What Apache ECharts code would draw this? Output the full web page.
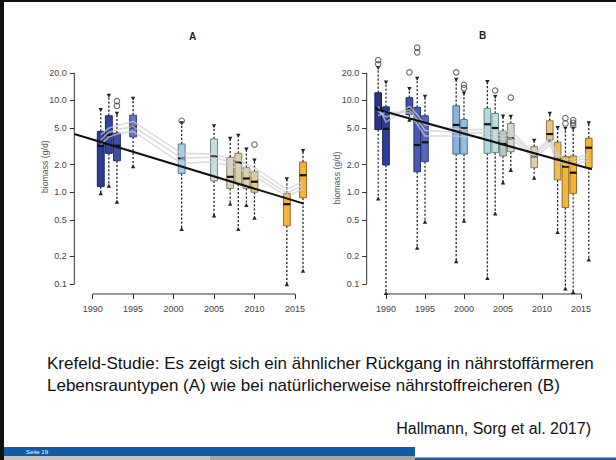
<!DOCTYPE html>
<html><head><meta charset="utf-8">
<script src="https://cdn.jsdelivr.net/npm/echarts@6/dist/echarts.min.js"></script>
<style>html,body{margin:0;padding:0;background:#fff}#c{width:616px;height:460px}</style>
</head><body><div id="c"></div>
<script>
// ---------- tick labels ----------
const xTicks = [1990, 1995, 2000, 2005, 2010, 2015];
const yTicks = [0.1, 0.2, 0.5, 1, 2, 5, 10, 20];

// ---------- panel A ----------
const yearsA = [1991, 1992, 1993, 1995, 2001, 2005, 2007, 2008, 2009, 2010, 2014, 2016];
const lowA   = [0.98, 1.18, 0.79, 1.93, 0.40, 0.56, 0.75, 0.40, 0.73, 0.53, 0.10, 0.14];
const q1A    = [1.15, 2.65, 2.20, 4.00, 1.60, 1.33, 1.10, 1.23, 1.10, 1.00, 0.43, 0.87];
const medA   = [3.20, 4.20, 3.20, 5.10, 2.35, 2.45, 1.47, 2.10, 1.41, 1.30, 0.74, 1.53];
const q3A    = [4.60, 6.80, 4.40, 6.90, 3.35, 3.80, 2.40, 2.65, 1.85, 1.67, 0.97, 2.13];
const highA  = [7.80, 11.2, 7.10, 10.4, 5.60, 5.20, 3.80, 4.10, 2.90, 2.20, 1.38, 2.80];
const outYearsA = [1993, 1993, 2001, 2010];
const outValsA  = [9.8, 8.7, 6.0, 3.3];
const greyA1 = [4.2, 5.0, 5.3, 5.9, 2.65, 2.6, 2.3, 2.3, 2.0, 1.85, 1.08, 1.3];
const greyA2 = [3.7, 4.5, 4.8, 5.2, 2.35, 2.4, 2.1, 2.05, 1.8, 1.65, 0.98, 1.18];
const greyA3 = [3.3, 4.0, 4.3, 4.6, 2.05, 2.15, 1.9, 1.85, 1.62, 1.5, 0.90, 1.08];
const trendYearsA = [1987.73, 2016.1];
const trendValsA  = [4.3, 0.75];

// ---------- panel B ----------
const yearsB = [1989, 1990, 1993, 1994, 1995, 1999, 2000, 2003, 2004, 2005, 2006, 2009, 2011, 2012, 2013, 2014, 2016];
const lowB   = [0.86, 0.080, 6.2, 0.25, 0.48, 0.178, 0.49, 0.117, 0.59, 1.28, 1.75, 1.44, 3.7, 0.37, 0.090, 0.082, 0.186];
const q1B    = [4.8, 1.98, 7.0, 1.67, 2.15, 2.6, 2.6, 2.65, 2.7, 2.48, 2.76, 1.85, 3.7, 1.36, 0.68, 0.97, 1.85];
const medB   = [8.2, 4.9, 8.0, 3.27, 3.5, 5.4, 4.97, 5.5, 5.0, 3.35, 3.87, 2.44, 4.3, 2.3, 1.9, 1.63, 3.05];
const q3B    = [12.1, 8.5, 10.7, 8.4, 6.8, 8.75, 6.2, 8.2, 7.2, 4.64, 5.6, 3.13, 6.0, 3.5, 2.44, 2.48, 3.87];
const highB  = [22.4, 15.6, 13.2, 17.1, 10.9, 16.7, 11.8, 15.8, 10.8, 6.65, 6.6, 3.61, 7.1, 4.97, 4.9, 4.9, 5.6];
const outYearsB = [1989, 1989, 1993, 1994, 1994, 1999, 2000, 2000, 2004, 2006, 2013, 2013, 2014, 2014, 2014];
const outValsB  = [24.9, 27.5, 20.2, 33.4, 37.5, 20.2, 13.6, 14.8, 12.8, 10.7, 5.6, 6.4, 5.3, 5.7, 6.1];
const greyB1 = [8.6, 5.8, 8.6, 7.0, 5.4, 4.9, 4.8, 4.8, 4.7, 4.5, 4.7, 2.6, 3.9, 2.6, 2.25, 2.3, 2.6];
const greyB2 = [7.6, 6.6, 7.9, 6.2, 4.7, 4.5, 4.4, 4.4, 4.3, 4.1, 4.3, 2.45, 3.6, 2.4, 2.1, 2.15, 2.4];
const greyB3 = [6.8, 7.5, 7.3, 5.5, 4.1, 4.1, 4.0, 4.0, 3.9, 3.8, 3.9, 2.3, 3.3, 2.2, 1.95, 2.0, 2.2];
const trendYearsB = [1988.8, 2016.4];
const trendValsB  = [8.0, 1.78];

// ---------- styles ----------
const colorsA = ['#2d3b93','#33429c','#3d4ea6','#6a75c2','#a4cdea','#c8dedc','#d9d4bb','#dccfa6','#ddd0a4','#e2c98e','#f1b53e','#f3b43a'];
const colorsB = ['#28338c','#2e3c9a','#3d4ca8','#4858b4','#5468bd','#88b4e0','#94c0e4','#aedbe0','#bcdfdd','#bac8c4','#d2dacb','#ddd1a8','#e8c67e','#efbc55','#f1b640','#f2b43a','#f3b43a'];
const FONT = 'Liberation Sans, Arial, Helvetica, sans-serif';
const BOX_W = 0.85;

function shade(hex, f) {
  const n = parseInt(hex.slice(1), 16);
  const r = Math.round(((n >> 16) & 255) * f), g = Math.round(((n >> 8) & 255) * f), b = Math.round((n & 255) * f);
  return 'rgb(' + r + ',' + g + ',' + b + ')';
}
const zip = (xs, ys) => xs.map((x, i) => [x, ys[i]]);

function boxRender(colors) {
  return function (params, api) {
    const x = api.value(0);
    const low = api.coord([x, api.value(1)]);
    const q1 = api.coord([x, api.value(2)]);
    const med = api.coord([x, api.value(3)]);
    const q3 = api.coord([x, api.value(4)]);
    const high = api.coord([x, api.value(5)]);
    const hw = Math.abs(api.coord([x + BOX_W / 2, api.value(3)])[0] - med[0]);
    const cx = med[0];
    const fill = colors[params.dataIndex];
    const stroke = shade(fill, 0.6);
    const t = 2.2;
    const wh = { stroke: '#2a2a2a', lineWidth: 1.3, lineDash: [2.2, 1.8] };
    return { type: 'group', children: [
      { type: 'line', shape: { x1: cx, y1: q3[1], x2: cx, y2: high[1] }, style: wh },
      { type: 'line', shape: { x1: cx, y1: q1[1], x2: cx, y2: low[1] }, style: wh },
      { type: 'rect', shape: { x: cx - hw, y: q3[1], width: 2 * hw, height: q1[1] - q3[1] }, style: { fill: fill, stroke: stroke, lineWidth: 1 } },
      { type: 'line', shape: { x1: cx - hw, y1: med[1], x2: cx + hw, y2: med[1] }, style: { stroke: '#111', lineWidth: 2.2 } },
      { type: 'polygon', shape: { points: [[cx - t, high[1] - t], [cx + t, high[1] - t], [cx, high[1] + t * 0.8]] }, style: { fill: '#222' } },
      { type: 'polygon', shape: { points: [[cx - t, low[1] + t], [cx + t, low[1] + t], [cx, low[1] - t * 0.8]] }, style: { fill: '#222' } }
    ]};
  };
}

function frameRender(params, api) {
  const cs = params.coordSys;
  const pL = api.coord([xTicks[0], yTicks[0]]);
  const pR = api.coord([xTicks[xTicks.length - 1], yTicks[0]]);
  const pT = api.coord([xTicks[0], yTicks[yTicks.length - 1]]);
  const by = cs.y + cs.height, lx = cs.x;
  const st = { stroke: '#333', lineWidth: 1 };
  return { type: 'group', children: [
    { type: 'line', shape: { x1: pL[0], y1: by, x2: pR[0], y2: by }, style: st },
    { type: 'line', shape: { x1: lx, y1: pL[1], x2: lx, y2: pT[1] }, style: st }
  ]};
}

function xAxisOf(gi, min, max) {
  return {
    type: 'value', gridIndex: gi, min: min, max: max,
    axisLine: { show: false }, splitLine: { show: false },
    axisTick: { show: true, length: 5, customValues: xTicks, lineStyle: { color: '#333', width: 1 } },
    axisLabel: { customValues: xTicks, formatter: v => String(v), fontSize: 9, color: '#444', margin: 10.5, fontFamily: FONT }
  };
}
function yAxisOf(gi) {
  return {
    type: 'log', logBase: 10, gridIndex: gi, min: 0.0778, max: 40,
    axisLine: { show: false }, splitLine: { show: false }, minorTick: { show: false },
    axisTick: { show: true, length: 4.5, customValues: yTicks, lineStyle: { color: '#333', width: 1 } },
    axisLabel: { customValues: yTicks, formatter: v => Number(v).toFixed(1), fontSize: 9, color: '#444', margin: 7.5, fontFamily: FONT }
  };
}

function panelSeries(gi, years, low, q1, med, q3, high, colors, outY, outV, greys, tY, tV) {
  const s = [];
  s.push({ type: 'custom', xAxisIndex: gi, yAxisIndex: gi, renderItem: frameRender, clip: false, silent: true,
    data: [[xTicks[0], yTicks[0]]], z: 1 });
  s.push({ type: 'custom', xAxisIndex: gi, yAxisIndex: gi, renderItem: boxRender(colors), clip: false, z: 2,
    encode: { x: 0, y: [1, 2, 3, 4, 5] },
    data: years.map((y, i) => [y, low[i], q1[i], med[i], q3[i], high[i]]) });
  s.push({ type: 'scatter', xAxisIndex: gi, yAxisIndex: gi, z: 3, symbol: 'circle', symbolSize: 5.5,
    itemStyle: { color: 'rgba(255,255,255,0)', borderColor: '#444', borderWidth: 1.1 },
    data: zip(outY, outV) });
  greys.forEach(g => s.push({ type: 'line', xAxisIndex: gi, yAxisIndex: gi, z: 4, symbol: 'none', silent: true,
    lineStyle: { color: 'rgba(205,205,212,0.7)', width: 1.6 }, data: zip(years, g) }));
  s.push({ type: 'line', xAxisIndex: gi, yAxisIndex: gi, z: 5, symbol: 'none', silent: true,
    lineStyle: { color: '#111', width: 2 }, data: zip(tY, tV) });
  return s;
}

const chart = echarts.init(document.getElementById('c'), null, { renderer: 'svg', width: 616, height: 460 });

const txt = (x, y, text, o) => Object.assign({ type: 'text', x: x, y: y, silent: true,
  style: Object.assign({ text: text, fontFamily: FONT, fill: '#111', textVerticalAlign: 'middle' }, o || {}) });

chart.setOption({
  animation: false,
  backgroundColor: '#fff',
  textStyle: { fontFamily: FONT },
  grid: [
    { left: 74.3, top: 45.12, width: 235.2, height: 248.88, outerBoundsMode: 'none', containLabel: false },
    { left: 366.7, top: 45.12, width: 232, height: 248.88, outerBoundsMode: 'none', containLabel: false }
  ],
  xAxis: [xAxisOf(0, 1987.73, 2016.8), xAxisOf(1, 1987.526, 2017.27)],
  yAxis: [yAxisOf(0), yAxisOf(1)],
  series: [].concat(
    panelSeries(0, yearsA, lowA, q1A, medA, q3A, highA, colorsA, outYearsA, outValsA, [greyA1, greyA2, greyA3], trendYearsA, trendValsA),
    panelSeries(1, yearsB, lowB, q1B, medB, q3B, highB, colorsB, outYearsB, outValsB, [greyB1, greyB2, greyB3], trendYearsB, trendValsB)
  ),
  graphic: [
    // slide frame and footer
    { type: 'rect', shape: { x: 0, y: 0, width: 4, height: 460 }, style: { fill: '#111' }, silent: true },
    { type: 'rect', shape: { x: 0, y: 0, width: 616, height: 2 }, style: { fill: '#111' }, silent: true },
    { type: 'rect', shape: { x: 4, y: 447, width: 411, height: 9 }, style: { fill: '#0f5ba6' }, silent: true },
    { type: 'rect', shape: { x: 4, y: 456, width: 206, height: 4 }, style: { fill: '#c4c4c4' }, silent: true },
    { type: 'rect', shape: { x: 210, y: 456, width: 205, height: 4 }, style: { fill: '#a6a6a6' }, silent: true },
    { type: 'rect', shape: { x: 415, y: 457.5, width: 201, height: 2.5 }, style: { fill: '#1a5ea8' }, silent: true },
    txt(26, 451.5, 'Seite 19', { fontSize: 6, fill: '#ffffff' }),
    // panel titles and axis names
    txt(192.7, 36, 'A', { fontSize: 10, fontWeight: 'bold', textAlign: 'center', fill: '#222' }),
    txt(482.7, 35, 'B', { fontSize: 10, fontWeight: 'bold', textAlign: 'center', fill: '#222' }),
    Object.assign(txt(45, 166.7, 'biomass (g/d)', { fontSize: 8.7, textAlign: 'center', fill: '#555' }), { rotation: Math.PI / 2 }),
    Object.assign(txt(337.3, 178, 'biomass (g/d)', { fontSize: 8.7, textAlign: 'center', fill: '#555' }), { rotation: Math.PI / 2 }),
    // slide text
    txt(47, 363, 'Krefeld-Studie: Es zeigt sich ein ähnlicher Rückgang in nährstoffärmeren', { fontSize: 17 }),
    txt(47, 385.5, 'Lebensrauntypen (A) wie bei natürlicherweise nährstoffreicheren (B)', { fontSize: 17 }),
    txt(591, 428, 'Hallmann, Sorg et al. 2017)', { fontSize: 16, textAlign: 'right' })
  ]
});
</script></body></html>
